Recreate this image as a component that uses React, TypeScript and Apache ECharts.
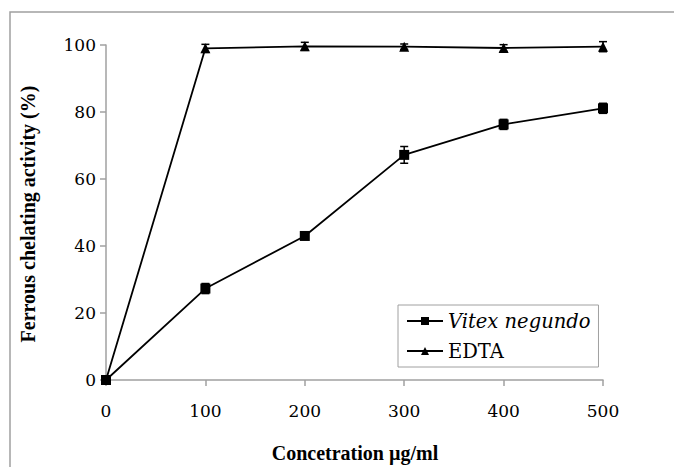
import React, { useEffect, useRef } from "react";
import * as echarts from "echarts";

const concentrations = [0, 100, 200, 300, 400, 500];
const vitexValues = [0, 27.3, 43.0, 67.2, 76.3, 81.1];
const vitexErrors = [0, 1.5, 0.8, 2.5, 1.5, 1.5];
const edtaValues = [0, 99.0, 99.6, 99.5, 99.1, 99.5];
const edtaErrors = [0, 1.2, 1.2, 0.8, 1.0, 1.5];
const xTitle = "Concetration µg/ml";
const yTitle = "Ferrous chelating activity (%)";

const SERIF = "'DejaVu Serif', serif";
const TIMES = "'Liberation Serif', serif";

function errorSeries(values: number[], errors: number[]) {
  const data = concentrations.map((c, i) => [c, values[i] - errors[i], values[i] + errors[i]]);
  return {
    type: "custom",
    silent: true,
    z: 5,
    data,
    renderItem: (params: any, api: any) => {
      const x = api.value(0);
      const lo = api.coord([x, api.value(1)]);
      const hi = api.coord([x, api.value(2)]);
      const hw = 4;
      const style = { stroke: "#000", lineWidth: 1.5 };
      return {
        type: "group",
        children: [
          { type: "line", shape: { x1: lo[0], y1: lo[1], x2: hi[0], y2: hi[1] }, style },
          { type: "line", shape: { x1: lo[0] - hw, y1: lo[1], x2: lo[0] + hw, y2: lo[1] }, style },
          { type: "line", shape: { x1: hi[0] - hw, y1: hi[1], x2: hi[0] + hw, y2: hi[1] }, style },
        ],
      };
    },
  };
}

export default function App() {
  const ref = useRef<HTMLDivElement>(null);
  useEffect(() => {
    if (!ref.current) return;
    const chart = echarts.init(ref.current, null, { renderer: "svg" });
    const axisColor = "#a0a0a0";
    const labelFont = { fontFamily: SERIF, fontSize: 17, color: "#000" };
    chart.setOption({
      animation: false,
      backgroundColor: "#fff",
      grid: { left: 106, right: 71, top: 45, bottom: 87 },
      xAxis: {
        type: "value",
        min: 0,
        max: 500,
        interval: 100,
        splitLine: { show: false },
        axisLine: { lineStyle: { color: axisColor, width: 1.5 } },
        axisTick: { show: true, length: 6, lineStyle: { color: axisColor, width: 1.5 } },
        axisLabel: { ...labelFont, margin: 22 },
      },
      yAxis: {
        type: "value",
        min: 0,
        max: 100,
        interval: 20,
        splitLine: { show: false },
        axisLine: { show: true, lineStyle: { color: axisColor, width: 1.5 } },
        axisTick: { show: true, length: 6, lineStyle: { color: axisColor, width: 1.5 } },
        axisLabel: { ...labelFont, margin: 10 },
      },
      legend: {
        orient: "vertical",
        left: 398,
        top: 305,
        padding: [6, 8, 6, 8],
        itemGap: 10,
        itemWidth: 36,
        itemHeight: 10,
        borderColor: "#a0a0a0",
        borderWidth: 1,
        backgroundColor: "#fff",
        data: [
          { name: "Vitex negundo", textStyle: { fontStyle: "italic" } },
          { name: "EDTA" },
        ],
        textStyle: { fontFamily: SERIF, fontSize: 19.5, color: "#000" },
      },
      graphic: [
        {
          type: "rect",
          shape: { x: 10, y: 12, width: 700, height: 500 },
          style: { fill: "none", stroke: "#a0a0a0", lineWidth: 1.5 },
          silent: true,
          z: -10,
        },
        {
          type: "text",
          x: 355,
          y: 453,
          style: {
            text: xTitle,
            fontFamily: TIMES,
            fontWeight: "bold",
            fontSize: 20,
            fill: "#000",
            align: "center",
            verticalAlign: "middle",
          },
        },
        {
          type: "text",
          x: 28,
          y: 214,
          rotation: Math.PI / 2,
          style: {
            text: yTitle,
            fontFamily: TIMES,
            fontWeight: "bold",
            fontSize: 20,
            fill: "#000",
            align: "center",
            verticalAlign: "middle",
          },
        },
      ],
      series: [
        {
          name: "Vitex negundo",
          type: "line",
          data: concentrations.map((c, i) => [c, vitexValues[i]]),
          symbol: "rect",
          symbolSize: 10,
          lineStyle: { color: "#000", width: 1.8 },
          itemStyle: { color: "#000" },
          z: 10,
        },
        {
          name: "EDTA",
          type: "line",
          data: concentrations.map((c, i) => [c, edtaValues[i]]),
          symbol: "triangle",
          symbolSize: 10,
          lineStyle: { color: "#000", width: 1.8 },
          itemStyle: { color: "#000" },
          z: 10,
        },
        errorSeries(vitexValues, vitexErrors),
        errorSeries(edtaValues, edtaErrors),
      ],
    });
    return () => chart.dispose();
  }, []);
  return <div ref={ref} style={{ width: 674, height: 467, position: "absolute", left: 0, top: 0 }} />;
}
